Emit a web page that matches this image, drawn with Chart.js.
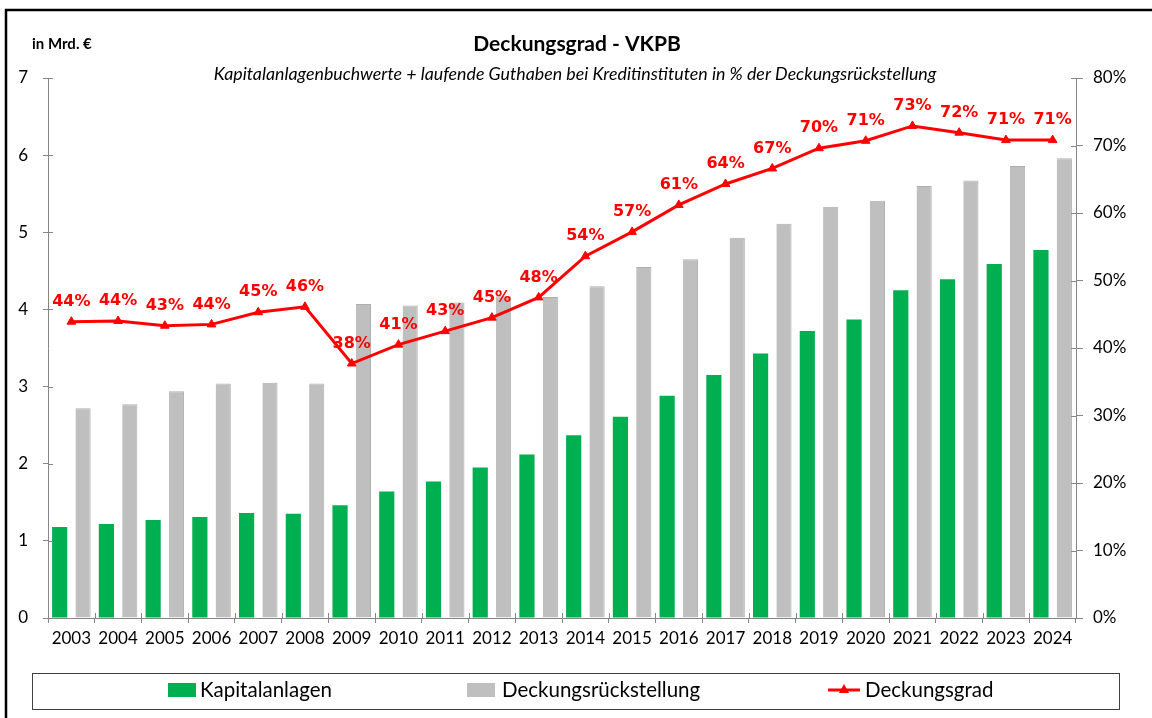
<!DOCTYPE html>
<html>
<head>
<meta charset="utf-8">
<script src="https://cdn.jsdelivr.net/npm/chart.js@4"></script>
<style>
  body { margin: 0; background: #fff; }
  #wrap { width: 1152px; height: 718px; position: relative; }
</style>
</head>
<body>
<div id="wrap"><canvas id="chart"></canvas></div>
<script>
// Data
const years = ["2003", "2004", "2005", "2006", "2007", "2008", "2009", "2010", "2011", "2012", "2013",
  "2014", "2015", "2016", "2017", "2018", "2019", "2020", "2021", "2022", "2023", "2024"];
const kapitalanlagen = [1.18, 1.22, 1.27, 1.31, 1.36, 1.35, 1.46, 1.64, 1.77, 1.95, 2.12,
  2.37, 2.61, 2.88, 3.15, 3.43, 3.72, 3.87, 4.25, 4.39, 4.59, 4.77];
const deckungsrueckstellung = [2.72, 2.77, 2.94, 3.04, 3.05, 3.04, 4.07, 4.05, 4.09, 4.17, 4.16,
  4.30, 4.55, 4.65, 4.93, 5.11, 5.33, 5.41, 5.60, 5.67, 5.86, 5.96];
const deckungsgrad = [43.9, 44.0, 43.3, 43.5, 45.3, 46.1, 37.7, 40.5, 42.5, 44.5, 47.5,
  53.6, 57.2, 61.2, 64.3, 66.6, 69.6, 70.7, 72.9, 71.9, 70.8, 70.8];
const leftTicks = [0, 1, 2, 3, 4, 5, 6, 7];
const rightTicks = [0, 10, 20, 30, 40, 50, 60, 70, 80];

const axisColor = "#868686";
const tickFont = { family: "Lato", size: 17 };

// Title, frame, legend box, data labels and inner half of the cross ticks
const decorations = {
  id: "decorations",
  afterDatasetsDraw(chart) {
    const ctx = chart.ctx;
    const meta = chart.getDatasetMeta(2);
    ctx.save();
    ctx.fillStyle = "#FF0000";
    ctx.font = "bold 16px 'DejaVu Sans'";
    ctx.textAlign = "center";
    ctx.textBaseline = "middle";
    meta.data.forEach((pt, i) => {
      ctx.fillText(Math.round(deckungsgrad[i]) + "%", pt.x, pt.y - 20);
    });
    ctx.restore();
  },
  afterDraw(chart) {
    const ctx = chart.ctx;
    const area = chart.chartArea;
    ctx.save();

    // inner part of cross ticks
    ctx.strokeStyle = axisColor;
    ctx.lineWidth = 1;
    ctx.beginPath();
    const yl = chart.scales.y, yr = chart.scales.y1, x = chart.scales.x;
    yl.ticks.forEach((t) => {
      const py = Math.round(yl.getPixelForValue(t.value)) + 0.5;
      ctx.moveTo(area.left, py); ctx.lineTo(area.left + 5, py);
    });
    yr.ticks.forEach((t) => {
      const py = Math.round(yr.getPixelForValue(t.value)) + 0.5;
      ctx.moveTo(area.right - 5, py); ctx.lineTo(area.right, py);
    });
    for (let i = 0; i <= years.length; i++) {
      const px = Math.round(x.getPixelForValue(i) - (x.getPixelForValue(1) - x.getPixelForValue(0)) / 2) + 0.5;
      ctx.moveTo(px, area.bottom - 5); ctx.lineTo(px, area.bottom);
    }
    ctx.stroke();

    // headings
    ctx.fillStyle = "#000";
    ctx.textBaseline = "middle";
    ctx.textAlign = "left";
    ctx.font = "bold 15px Lato";
    ctx.fillText("in Mrd. €", 32, 44);
    ctx.textAlign = "center";
    ctx.font = "bold 21px Lato";
    ctx.fillText("Deckungsgrad - VKPB", 577, 44);
    ctx.font = "italic 17.8px Lato";
    ctx.fillText("Kapitalanlagenbuchwerte + laufende Guthaben bei Kreditinstituten in % der Deckungsrückstellung", 575, 74);

    // outer frame: top and left edges only
    ctx.strokeStyle = "#000";
    ctx.lineWidth = 2.5;
    ctx.beginPath();
    ctx.moveTo(6, 730); ctx.lineTo(6, 10); ctx.lineTo(1160, 10);
    ctx.stroke();

    // legend
    ctx.lineWidth = 1;
    ctx.strokeStyle = "#404040";
    ctx.strokeRect(32.5, 673.5, 1087, 36);
    const ds = chart.data.datasets;
    ctx.font = "20.5px Lato";
    ctx.textAlign = "left";
    ctx.fillStyle = ds[0].backgroundColor;
    ctx.fillRect(168, 683, 28, 14);
    ctx.fillStyle = ds[1].backgroundColor;
    ctx.fillRect(467, 683, 28, 14);
    ctx.strokeStyle = ds[2].borderColor;
    ctx.lineWidth = 3;
    ctx.beginPath(); ctx.moveTo(828, 690); ctx.lineTo(860, 690); ctx.stroke();
    ctx.fillStyle = ds[2].borderColor;
    ctx.beginPath(); ctx.moveTo(844, 684); ctx.lineTo(849, 693); ctx.lineTo(839, 693); ctx.closePath(); ctx.fill();
    ctx.fillStyle = "#000";
    ctx.fillText(ds[0].label, 200, 690);
    ctx.fillText(ds[1].label, 502, 690);
    ctx.fillText(ds[2].label, 865, 690);
    ctx.restore();
  }
};

new Chart(document.getElementById("chart"), {
  type: "bar",
  data: {
    labels: years,
    datasets: [
      {
        label: "Kapitalanlagen",
        data: kapitalanlagen,
        backgroundColor: "#00B050",
        yAxisID: "y",
        order: 1,
        categoryPercentage: 1.0,
        barPercentage: 0.65,
      },
      {
        label: "Deckungsrückstellung",
        data: deckungsrueckstellung,
        backgroundColor: "#BFBFBF",
        borderColor: "#AEAEAE",
        borderWidth: { top: 1, right: 1, left: 0, bottom: 0 },
        yAxisID: "y",
        order: 1,
        categoryPercentage: 1.0,
        barPercentage: 0.65,
      },
      {
        type: "line",
        label: "Deckungsgrad",
        data: deckungsgrad,
        borderColor: "#FF0000",
        backgroundColor: "#FF0000",
        borderWidth: 3,
        pointStyle: "triangle",
        pointRadius: 5,
        pointBorderWidth: 1,
        tension: 0,
        yAxisID: "y1",
        order: 0,
      },
    ],
  },
  options: {
    responsive: true,
    maintainAspectRatio: false,
    animation: false,
    layout: { padding: { top: 78, left: 0, right: 0, bottom: 0 } },
    plugins: {
      legend: { display: false },
      tooltip: { enabled: false },
    },
    scales: {
      x: {
        offset: true,
        grid: { display: true, drawOnChartArea: false, color: axisColor, tickLength: 5, offset: true },
        border: { color: axisColor },
        ticks: { color: "#000", font: tickFont, padding: 5, maxRotation: 0, autoSkip: false },
        afterFit(scale) { scale.height = 100; },
      },
      y: {
        position: "left",
        min: 0,
        max: 7,
        afterBuildTicks(scale) { scale.ticks = leftTicks.map((v) => ({ value: v })); },
        grid: { drawOnChartArea: false, color: axisColor, tickLength: 5 },
        border: { color: axisColor },
        ticks: { color: "#000", font: tickFont, padding: 15 },
        afterFit(scale) { scale.width = 48; },
      },
      y1: {
        position: "right",
        min: 0,
        max: 80,
        afterBuildTicks(scale) { scale.ticks = rightTicks.map((v) => ({ value: v })); },
        grid: { drawOnChartArea: false, color: axisColor, tickLength: 7 },
        border: { color: axisColor },
        ticks: { color: "#000", font: tickFont, padding: 10, callback: (v) => v + "%" },
        afterFit(scale) { scale.width = 76; },
      },
    },
  },
  plugins: [decorations],
});
</script>
</body>
</html>
